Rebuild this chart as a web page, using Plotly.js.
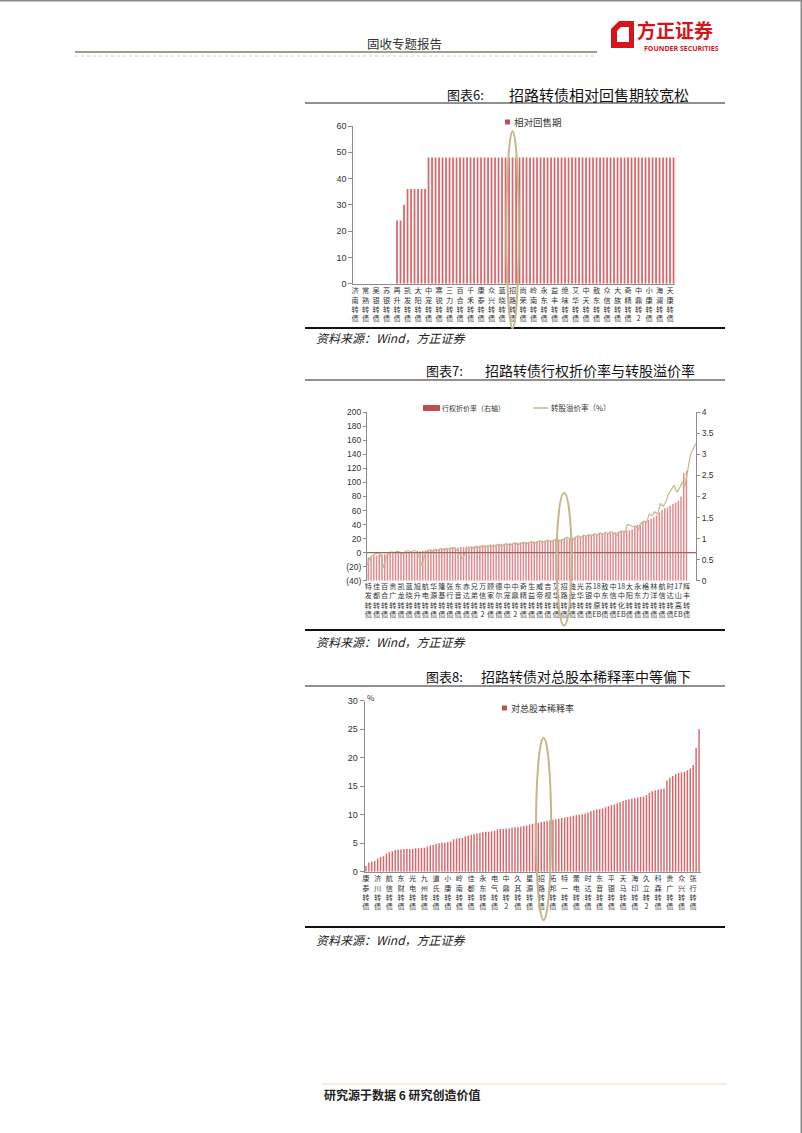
<!DOCTYPE html>
<html>
<head>
<meta charset="utf-8">
<script src="https://cdn.plot.ly/plotly-3.0.1.min.js"></script>
<style>
html, body { margin: 0; padding: 0; background: #fff; }
#page { width: 802px; height: 1133px; }
</style>
</head>
<body>
<div id="page"></div>
<script>
// 图表6 相对回售期 (每3个品种标一个名字)
var labels6 = ["济南转债","常熟转债","吴银转债","苏银转债","再升转债","凯发转债","太阳转债","中宠转债","寒锐转债","三力转债",
  "百合转债","千禾转债","康泰转债","众兴转债","蓝晓转债","招路转债","尚荣转债","岭南转债","永东转债","益丰转债",
  "绝味转债","艾华转债","中天转债","敖东转债","众信转债","大族转债","奇精转债","中鼎转2","小康转债","海澜转债","天康转债"];
var huishou6 = [0,0,0,0,0,0,0,0,0,0,
  0,0,24,24,30,36,36,36,36,36,
  36,48,48,48,48,48,48,48,48,48,
  48,48,48,48,48,48,48,48,48,48,
  48,48,48,48,48,48,48,48,48,48,
  48,48,48,48,48,48,48,48,48,48,
  48,48,48,48,48,48,48,48,48,48,
  48,48,48,48,48,48,48,48,48,48,
  48,48,48,48,48,48,48,48,48,48,
  48,48];

// 图表7 行权折价率(右轴) 与 转股溢价率
var labels7 = ["特发转债","佳都转债","百合转债","贵广转债","凯龙转债","蓝晓转债","旭升转债","航电转债","华源转债","隆基转债",
  "张行转债","东音转债","赤达转债","兄弟转债","万信转2","顾家转债","德尔转债","中宠转债","中鼎转2","奇精转债",
  "生益转债","威帝转债","吉视转债","艾华转债","招路转债","迪龙转债","光华转债","苏银转债","18中原EB","敖东转债",
  "中信转债","18中化EB","太阳转债","永东转债","格力转债","林洋转债","航信转债","时达转债","17山高EB","辉丰转债"];
var zhejia7 = [0.55,0.58,0.6,0.6,0.62,0.63,0.63,0.64,0.65,0.65,
  0.66,0.66,0.67,0.67,0.68,0.68,0.69,0.69,0.7,0.7,
  0.71,0.72,0.73,0.74,0.75,0.75,0.76,0.76,0.77,0.77,
  0.78,0.78,0.79,0.79,0.8,0.8,0.81,0.81,0.82,0.82,
  0.83,0.83,0.84,0.84,0.85,0.85,0.86,0.86,0.87,0.87,
  0.88,0.88,0.89,0.89,0.9,0.9,0.91,0.91,0.92,0.92,
  0.93,0.93,0.94,0.94,0.95,0.95,0.96,0.96,0.97,0.97,
  0.98,0.98,0.99,1.0,1.01,1.02,1.03,1.04,1.05,1.06,
  1.07,1.08,1.09,1.1,1.1,1.11,1.12,1.12,1.13,1.13,
  1.14,1.15,1.16,1.17,1.18,1.19,1.2,1.22,1.28,1.33,
  1.36,1.4,1.42,1.44,1.47,1.5,1.55,1.62,1.68,1.72,
  1.74,1.78,1.82,1.85,1.9,2.0,2.55,2.6,null,null,null];
var yijia7 = [-18,-8,-4,-2,0,-3,-22,-6,0,1,
  0,2,1,-2,2,3,1,3,2,-6,
  -18,-4,3,4,2,5,3,6,4,6,
  5,7,6,3,-4,-9,2,7,8,6,
  9,7,10,8,9,11,8,10,12,9,
  11,13,10,12,14,11,13,15,12,14,
  16,13,15,17,14,16,18,15,17,19,
  16,18,20,22,19,17,22,24,21,25,
  23,26,24,27,25,28,26,29,27,30,
  28,24,29,31,28,40,39,37,38,33,
  42,45,43,55,53,58,55,70,66,72,
  84,90,96,86,92,100,95,118,140,148,156];

// 图表8 对总股本稀释率 (每4个品种标一个名字)
var labels8 = ["康泰转债","济川转债","航信转债","东财转债","光电转债","九州转债","道氏转债","小康转债","岭南转债","佳都转债",
  "永东转债","电气转债","中鼎转2","久其转债","星源转债","招路转债","拓邦转债","特一转债","蕾电转债","时达转债",
  "东音转债","平银转债","天马转债","海印转债","久立转2","科森转债","贵广转债","众兴转债","张行转债"];
var xishi8 = [1.0,1.6,1.8,1.9,2.3,2.6,2.7,3.2,3.4,3.6,
  3.8,3.9,3.9,4.0,4.0,4.0,4.0,4.1,4.1,4.2,
  4.2,4.4,4.6,4.7,4.9,5.0,5.1,5.1,5.2,5.3,
  5.7,5.8,5.9,5.9,6.2,6.3,6.5,6.6,6.7,6.8,
  6.9,7.0,7.0,7.1,7.2,7.4,7.5,7.5,7.6,7.6,
  7.7,7.8,7.8,7.9,8.0,8.1,8.3,8.4,8.5,8.6,
  8.7,8.8,8.9,9.0,9.1,9.2,9.3,9.4,9.5,9.6,
  9.7,9.8,9.9,10.0,10.1,10.2,10.4,10.6,10.8,10.9,
  11.0,11.1,11.3,11.5,11.7,11.8,12.0,12.2,12.4,12.6,
  12.7,12.8,12.9,13.0,13.1,13.2,13.4,13.8,14.1,14.3,
  14.4,14.5,14.6,16.0,16.5,16.8,17.1,17.3,17.4,17.5,
  17.8,18.1,18.7,21.7,25.0];

var W = 802, H = 1133;
var FONT = "'Noto Sans CJK SC', 'Noto Sans', sans-serif";
var RED = "#c0504d", TAN = "#c6b68c", AXIS = "#8c8c8c";

function px(x) { return x / W; }
function py(y) { return 1 - y / H; }
function idx(arr) { return arr.map(function (v, i) { return i; }); }
function vert(s) { return s.match(/[0-9A-Za-z]+|./g).join("<br>"); }

// plot boxes in page pixels
var b6 = { l: 353.3, r: 675.3, t: 126, b: 283.7 };
var b7 = { l: 367, r: 696, t: 412.3, b: 580.7 };
var b8 = { l: 364.5, r: 700.5, t: 700.7, b: 871.7 };

var r6 = [-0.5, huishou6.length - 0.5];
var r7 = [-0.5, yijia7.length - 0.5];
var r8 = [-0.5, xishi8.length - 0.5];

function cx(c, box, r) { return box.l + (c - r[0]) / (r[1] - r[0]) * (box.r - box.l); }
function vy(v, box, r) { return box.b - (v - r[0]) / (r[1] - r[0]) * (box.b - box.t); }

var shapes = [];
var annotations = [];

function line(x0, y0, x1, y1, color, width, dash) {
  shapes.push({ type: "line", xref: "paper", yref: "paper", x0: px(x0), y0: py(y0), x1: px(x1), y1: py(y1),
    line: { color: color, width: width, dash: dash || "solid" }, layer: "above" });
}
function rect(x0, y0, x1, y1, color) {
  shapes.push({ type: "rect", xref: "paper", yref: "paper", x0: px(x0), y0: py(y0), x1: px(x1), y1: py(y1),
    fillcolor: color, line: { width: 0 }, layer: "above" });
}
function text(x, y, s, size, opts) {
  opts = opts || {};
  annotations.push({ xref: "paper", yref: "paper", x: px(x), y: py(y), text: s, showarrow: false,
    xanchor: opts.anchor || "left", yanchor: "middle", borderpad: 0,
    font: { family: opts.family || FONT, size: size, color: opts.color || "#222", weight: opts.weight || "normal",
      style: opts.style || "normal" } });
}
function ellipse(c, half, v0, v1, box, rx, ry) {
  shapes.push({ type: "circle", xref: "paper", yref: "paper",
    x0: px(cx(c - half, box, rx)), x1: px(cx(c + half, box, rx)),
    y0: py(vy(v0, box, ry)), y1: py(vy(v1, box, ry)),
    line: { color: TAN, width: 2 }, layer: "above" });
}

// page frame
line(0, 0.5, 802, 0.5, "#8a8a8a", 2);
line(801.5, 0, 801.5, 1133, "#8a8a8a", 2);

// header
text(404, 44, "固收专题报告", 12.5, { anchor: "center", color: "#333" });
line(75, 52, 597, 52, "#a39e8c", 2);
line(75, 56, 597, 56, "#c9c6bc", 0.8, "dot");
shapes.push({ type: "path", xref: "paper", yref: "paper",
  path: "M" + px(611) + "," + py(29) + " L" + px(619) + "," + py(21) + " L" + px(634) + "," + py(21) +
    " L" + px(634) + "," + py(48) + " L" + px(611) + "," + py(48) + " Z",
  fillcolor: "#d7141a", line: { width: 0 }, layer: "above" });
shapes.push({ type: "path", xref: "paper", yref: "paper",
  path: "M" + px(617) + "," + py(31) + " L" + px(621) + "," + py(27) + " L" + px(629) + "," + py(27) +
    " L" + px(629) + "," + py(42) + " L" + px(617) + "," + py(42) + " Z",
  fillcolor: "#ffffff", line: { width: 0 }, layer: "above" });
text(636, 29, "方正证券", 19, { color: "#d7141a", weight: "bold" });
text(643, 48, "FOUNDER SECURITIES", 7, { color: "#d7141a", weight: "bold", family: "'Open Sans', sans-serif" });

// section titles and rules
text(446, 94, "图表6:", 13, { color: "#111" });
text(690, 94, "招路转债相对回售期较宽松", 15, { anchor: "right", color: "#111" });
line(305, 103, 725, 103, "#222", 1);
line(305, 328, 725, 328, "#111", 2);
text(315, 337, "资料来源：Wind，方正证券", 12, { style: "italic", color: "#222" });

text(425, 370, "图表7:", 13, { color: "#111" });
text(696, 370, "招路转债行权折价率与转股溢价率", 14, { anchor: "right", color: "#111" });
line(305, 380, 725, 380, "#222", 1);
line(305, 630, 725, 630, "#111", 2);
text(315, 641, "资料来源：Wind，方正证券", 12, { style: "italic", color: "#222" });

text(425, 676, "图表8:", 13, { color: "#111" });
text(692, 676, "招路转债对总股本稀释率中等偏下", 14, { anchor: "right", color: "#111" });
line(305, 686, 725, 686, "#222", 1);
line(305, 927, 725, 927, "#111", 2);
text(315, 939, "资料来源：Wind，方正证券", 12, { style: "italic", color: "#222" });

// footer
line(322, 1084, 727, 1084, "#f1d9c4", 1);
text(323, 1094, "研究源于数据 6 研究创造价值", 12, { weight: "bold", color: "#222" });

// manual legends
rect(505, 119.5, 510, 124.5, RED);
text(513, 122, "相对回售期", 9.5, { color: "#333" });
rect(423, 405, 440, 411, RED);
text(441, 408, "行权折价率（右轴）", 7, { color: "#333" });
line(533, 408, 548, 408, TAN, 1.5);
text(550, 408, "转股溢价率（%）", 7.5, { color: "#333" });
rect(502, 705.5, 507, 710.5, RED);
text(510, 708, "对总股本稀释率", 9, { color: "#333" });
text(366, 697, "%", 8, { color: "#333" });

// zero line of the left axis in chart 7
line(b7.l, vy(0, b7, [-40, 200]), b7.r, vy(0, b7, [-40, 200]), "#9a675e", 1.2);

// highlight ellipses around 招路转债
ellipse(labels6.indexOf("招路转债") * 3, 1.75, -17, 58, b6, r6, [0, 60]);
ellipse(labels7.indexOf("招路转债") * 3, 2.75, -104, 85, b7, r7, [-40, 200]);
ellipse(labels8.indexOf("招路转债") * 4 + 0.8, 2.6, -8.5, 23.5, b8, r8, [0, 30]);

var barMarker = { color: "#d9666a", line: { width: 0 } };

var traces = [
  { type: "bar", name: "相对回售期", x: idx(huishou6), y: huishou6, xaxis: "x", yaxis: "y",
    width: 0.5, marker: barMarker, hoverinfo: "skip" },
  { type: "bar", name: "行权折价率（右轴）", x: idx(zhejia7), y: zhejia7, xaxis: "x2", yaxis: "y3",
    width: 0.55, marker: { color: "#e08a8d", line: { width: 0 } }, hoverinfo: "skip" },
  { type: "scatter", mode: "lines", name: "转股溢价率（%）", x: idx(yijia7), y: yijia7, xaxis: "x3", yaxis: "y2",
    line: { color: TAN, width: 1.2 }, hoverinfo: "skip" },
  { type: "bar", name: "对总股本稀释率", x: idx(xishi8), y: xishi8, xaxis: "x4", yaxis: "y4",
    width: 0.5, marker: barMarker, hoverinfo: "skip" }
];

var tickFont = { family: FONT, size: 7.2, color: "#333" };
var numFont = { family: "'Liberation Sans', sans-serif", size: 9, color: "#333" };

var layout = {
  width: W, height: H,
  margin: { l: 0, r: 0, t: 0, b: 0 },
  paper_bgcolor: "#fff", plot_bgcolor: "rgba(0,0,0,0)",
  showlegend: false,
  font: { family: FONT },
  // chart 6
  xaxis: { domain: [px(b6.l), px(b6.r)], anchor: "y", range: r6, fixedrange: true,
    tickmode: "array", tickvals: labels6.map(function (s, i) { return i * 3; }), ticktext: labels6.map(vert),
    tickangle: 0, tickfont: tickFont, showline: true, linecolor: AXIS, linewidth: 1, ticks: "", showgrid: false, zeroline: false },
  yaxis: { domain: [py(b6.b), py(b6.t)], anchor: "x", range: [0, 60], dtick: 10, fixedrange: true,
    tickfont: numFont, showline: true, linecolor: AXIS, ticks: "outside", ticklen: 4, tickcolor: AXIS,
    showgrid: false, zeroline: false },
  // chart 7
  xaxis2: { domain: [px(b7.l), px(b7.r)], anchor: "y2", range: r7, fixedrange: true,
    tickmode: "array", tickvals: labels7.map(function (s, i) { return i * 3; }), ticktext: labels7.map(vert),
    tickangle: 0, tickfont: tickFont, showline: false, ticks: "", showgrid: false, zeroline: false },
  xaxis3: { overlaying: "x2", anchor: "y2", range: [0, yijia7.length - 1], visible: false, fixedrange: true },
  yaxis2: { domain: [py(b7.b), py(b7.t)], anchor: "x2", range: [-40, 200], fixedrange: true,
    tickmode: "array", tickvals: [-40, -20, 0, 20, 40, 60, 80, 100, 120, 140, 160, 180, 200],
    ticktext: ["(40)", "(20)", "0", "20", "40", "60", "80", "100", "120", "140", "160", "180", "200"],
    tickfont: { family: numFont.family, size: 8.5, color: "#333" }, showline: true, linecolor: AXIS,
    ticks: "outside", ticklen: 3, tickcolor: AXIS, showgrid: false, zeroline: false },
  yaxis3: { overlaying: "y2", side: "right", anchor: "x2", range: [0, 4], dtick: 0.5, fixedrange: true,
    tickfont: { family: numFont.family, size: 8.5, color: "#333" }, showline: true, linecolor: AXIS,
    ticks: "outside", ticklen: 3, tickcolor: AXIS, showgrid: false, zeroline: false },
  // chart 8
  xaxis4: { domain: [px(b8.l), px(b8.r)], anchor: "y4", range: r8, fixedrange: true,
    tickmode: "array", tickvals: labels8.map(function (s, i) { return i * 4; }), ticktext: labels8.map(vert),
    tickangle: 0, tickfont: tickFont, showline: true, linecolor: AXIS, ticks: "", showgrid: false, zeroline: false },
  yaxis4: { domain: [py(b8.b), py(b8.t)], anchor: "x4", range: [0, 30], dtick: 5, fixedrange: true,
    tickfont: numFont, showline: true, linecolor: AXIS, ticks: "outside", ticklen: 4, tickcolor: AXIS,
    showgrid: false, zeroline: false },
  shapes: shapes,
  annotations: annotations
};

Plotly.newPlot("page", traces, layout, { staticPlot: true, displayModeBar: false });
</script>
</body>
</html>
